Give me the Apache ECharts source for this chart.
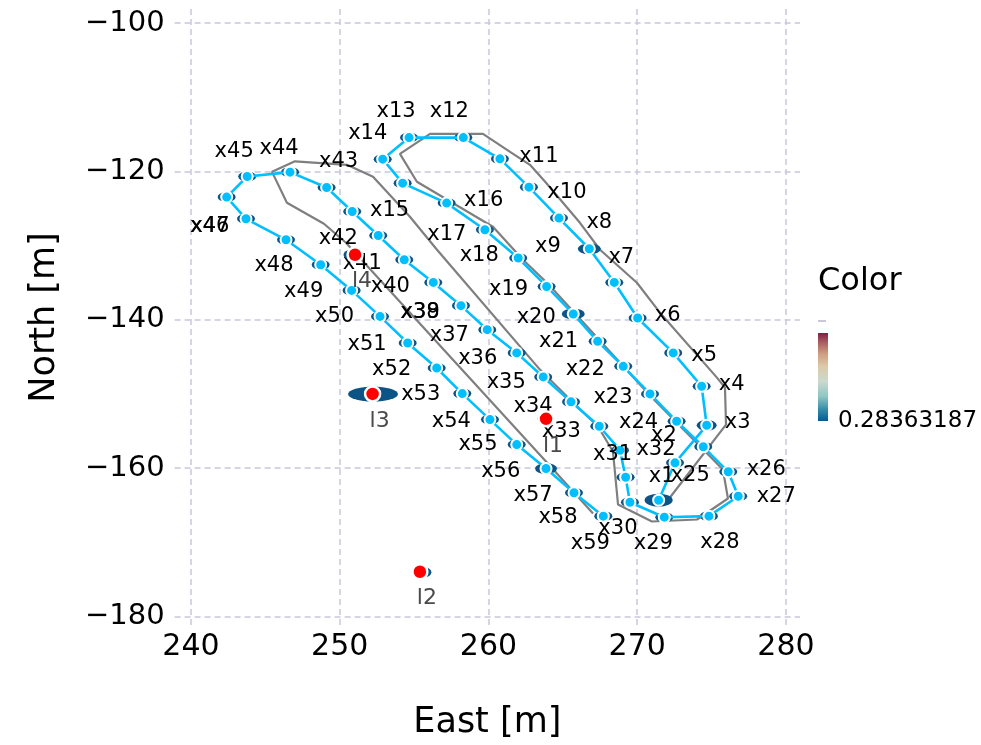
<!DOCTYPE html>
<html>
<head>
<meta charset="utf-8">
<script src="https://cdn.jsdelivr.net/npm/echarts@6/dist/echarts.min.js"></script>
<style>
  html, body { margin: 0; padding: 0; background: #ffffff; }
  #chart { width: 981px; height: 745px; }
</style>
</head>
<body>
<div id="chart"></div>
<script>
// ---- Pose estimates (East / North, metres) ----
const poseEast = [
  271.44, 272.54, 274.67, 274.33, 272.42, 270.03, 268.46, 266.78, 264.74, 262.72,
  260.77, 258.31, 254.66, 252.89, 254.23, 257.19, 259.76, 262.00, 263.91, 265.70,
  267.34, 269.06, 270.86, 272.65, 274.44, 276.12, 276.79, 274.82, 271.82, 269.51,
  269.22, 268.84, 267.45, 265.55, 263.68, 261.90, 259.92, 258.15, 256.29, 254.34,
  252.59, 250.84, 249.12, 246.66, 243.78, 242.40, 243.70, 246.39, 248.72, 250.80,
  252.71, 254.57, 256.52, 258.24, 260.10, 261.90, 263.87, 265.75, 267.72
];
const poseNorth = [
  -164.34, -159.30, -154.24, -148.98, -144.48, -139.77, -134.98, -130.44, -126.30, -122.13,
  -118.32, -115.45, -115.45, -118.36, -121.59, -124.28, -127.88, -131.69, -135.52, -139.23,
  -142.92, -146.29, -150.01, -153.70, -157.14, -160.51, -163.80, -166.49, -166.63, -164.61,
  -161.24, -157.60, -154.37, -151.08, -147.72, -144.48, -141.35, -138.11, -134.98, -131.92,
  -128.65, -125.41, -122.18, -120.11, -120.70, -123.47, -126.40, -129.23, -132.59, -136.05,
  -139.56, -143.14, -146.51, -149.97, -153.47, -156.84, -160.07, -163.34, -166.49
];
const poseNames = poseEast.map((_, i) => 'x' + (i + 1));

// ---- Planned route ----
const plannedEast = [
  272.20, 275.97, 275.90, 275.36, 271.53, 269.98, 267.50, 266.15, 263.87, 262.79,
  261.45, 259.63, 256.07, 254.05, 255.19, 260.30, 262.32, 264.00, 270.92, 275.76,
  276.10, 274.02, 270.99, 268.71, 268.37, 267.36, 265.28, 263.46, 256.54, 254.72,
  252.24, 250.49, 246.99, 245.45, 246.45, 248.94, 250.42, 263.93, 267.03
];
const plannedNorth = [
  -163.97, -154.14, -149.16, -147.81, -139.06, -135.02, -130.57, -126.94, -121.55, -119.12,
  -117.37, -114.95, -114.95, -117.64, -121.41, -127.47, -131.92, -135.15, -150.37, -160.20,
  -164.11, -166.94, -167.21, -164.92, -157.78, -154.41, -150.37, -146.73, -130.57, -126.13,
  -120.74, -119.12, -118.65, -120.07, -124.24, -127.07, -129.63, -159.26, -166.13
];

// ---- Landmarks: true positions and estimates ----
const landmarkNames = ['l1', 'l2', 'l3', 'l4'];
const landmarkEast = [263.87, 255.39, 252.21, 251.03];
const landmarkNorth = [-153.37, -173.98, -150.01, -131.25];
const landmarkEstEast = [263.80, 255.66, 252.24, 250.76];
const landmarkEstNorth = [-153.33, -174.07, -150.03, -131.25];

// ---- Axis ticks and colour scale ----
const xTicks = [240, 250, 260, 270, 280];
const yTicks = [-100, -120, -140, -160, -180];
const colorMin = 0.28363187;

// ---- Layout / style helpers ----
const FONT = 'DejaVu Sans';
const xRange = [238.9, 280.95];
const yRange = [-181.3, -98.1];

// label offsets [dx, dy] in px for x1..x59
const poseLabelOffsets = [
  [3,-24],[-11,-27],[31,-3],[30,-2],[31,3],[30,-2],[7,-25],[10,-26],[-11,28],[38,5],
  [39,-2],[-14,-26],[-13,-26],[-15,-26],[-13,27],[37,-3],[-38,5],[-39,-2],[-38,3],[-37,4],
  [-39,0],[-38,3],[-37,4],[-38,1],[-13,29],[38,-2],[38,0],[11,26],[-11,26],[-12,26],
  [-13,-23],[36,-1],[-38,5],[-38,5],[-37,6],[-39,6],[-38,6],[-41,7],[-13,30],[-14,27],
  [-16,28],[-14,27],[12,-26],[-11,-24],[-13,-25],[-17,29],[-36,8],[-12,26],[-17,27],[-17,26],
  [-13,28],[-16,27],[-16,27],[-11,28],[-12,25],[-16,27],[-13,27],[-16,25],[-13,27]
];
const ellipseDefault = [18, 10];
const ellipseLarge = { x1: [28, 13], x8: [23, 11], x20: [23, 11], x57: [22, 11], x3: [20, 11] };
const landmarkEllipse = { l1: [15, 10], l2: [15, 10], l3: [50, 15], l4: [15, 10] };

const ELLIPSE = 'path://M0,-1A1,1 0 1,1 0,1A1,1 0 1,1 0,-1Z';
const DARK = '#0b5485';
const CYAN = '#00bfff';

const posePairs = poseEast.map((e, i) => [e, poseNorth[i]]);

const chart = echarts.init(document.getElementById('chart'), null, { renderer: 'canvas' });

const toMinus = (v) => String(v).replace('-', '\u2212');

chart.setOption({
  animation: false,
  backgroundColor: '#ffffff',
  grid: {
    left: 174.6, right: 180.9, top: 8.9, bottom: 118.3,
    containLabel: false
  },
  xAxis: {
    type: 'value', min: xRange[0], max: xRange[1], splitNumber: 4,
    name: 'East [m]', nameLocation: 'middle', nameGap: 79,
    nameTextStyle: { fontSize: 35, color: '#000', fontFamily: FONT },
    axisLine: { show: false }, axisTick: { show: false },
    axisLabel: {
      fontSize: 30, color: '#000', fontFamily: FONT, margin: 6,
      showMinLabel: false, showMaxLabel: false,
      formatter: (v) => xTicks.includes(v) ? toMinus(v) : ''
    },
    splitLine: {
      show: true, showMinLine: false, showMaxLine: false,
      lineStyle: { color: '#c8c8dc', type: [6, 4], width: 1.5 }
    }
  },
  yAxis: {
    type: 'value', min: yRange[0], max: yRange[1], splitNumber: 4,
    name: 'North [m]', nameLocation: 'middle', nameGap: 112, nameRotate: 90,
    nameTextStyle: { fontSize: 35, color: '#000', fontFamily: FONT },
    axisLine: { show: false }, axisTick: { show: false },
    axisLabel: {
      fontSize: 29, color: '#000', fontFamily: FONT, margin: 10,
      showMinLabel: false, showMaxLabel: false,
      formatter: (v) => yTicks.includes(v) ? toMinus(v) : ''
    },
    splitLine: {
      show: true, showMinLine: false, showMaxLine: false,
      lineStyle: { color: '#c8c8dc', type: [6, 4], width: 1.5 }
    }
  },
  series: [
    {
      name: 'planned', type: 'line', z: 1,
      data: plannedEast.map((e, i) => [e, plannedNorth[i]]),
      showSymbol: false, symbol: 'none',
      lineStyle: { color: '#7f7f7f', width: 2.2 },
      silent: true
    },
    {
      name: 'pose covariance', type: 'scatter', z: 2,
      symbol: ELLIPSE,
      data: posePairs.map((p, i) => ({
        value: p,
        symbolSize: ellipseLarge[poseNames[i]] || ellipseDefault
      })),
      itemStyle: { color: DARK, opacity: 1 }
    },
    {
      name: 'trajectory', type: 'line', z: 3,
      data: posePairs,
      showSymbol: false, symbol: 'none',
      lineStyle: { color: CYAN, width: 2.6 }
    },
    {
      name: 'poses', type: 'scatter', z: 4,
      data: posePairs.map((p, i) => ({
        value: p,
        name: poseNames[i],
        label: { offset: poseLabelOffsets[i] }
      })),
      symbol: 'circle', symbolSize: 11,
      itemStyle: { color: CYAN, borderColor: '#ffffff', borderWidth: 2, opacity: 1 },
      label: {
        show: true, position: 'inside',
        formatter: (p) => p.name,
        fontSize: 21, color: '#000', fontFamily: FONT
      }
    },
    {
      name: 'landmark covariance', type: 'scatter', z: 5,
      symbol: ELLIPSE,
      data: landmarkEstEast.map((e, i) => ({
        value: [e, landmarkEstNorth[i]],
        symbolSize: landmarkEllipse[landmarkNames[i]]
      })),
      itemStyle: { color: DARK, opacity: 1 }
    },
    {
      name: 'landmarks', type: 'scatter', z: 6,
      symbol: 'circle', symbolSize: 15,
      data: landmarkEast.map((e, i) => ({
        value: [e, landmarkNorth[i]],
        name: landmarkNames[i]
      })),
      itemStyle: { color: '#ff0000', borderColor: '#ffffff', borderWidth: 2.5, opacity: 1 },
      label: {
        show: true, position: 'inside', offset: [7, 27],
        formatter: (p) => p.name,
        fontSize: 22, color: '#4a4a4a', fontFamily: FONT
      }
    }
  ],
  graphic: [
    {
      type: 'text', left: 818, top: 266,
      style: { text: 'Color', fontSize: 32, fill: '#000', fontFamily: FONT }
    },
    {
      type: 'line', shape: { x1: 818, y1: 321, x2: 826, y2: 321 },
      style: { stroke: '#c8c8dc', lineWidth: 2 }
    },
    {
      type: 'rect', shape: { x: 818, y: 333, width: 10, height: 88 },
      style: {
        fill: {
          type: 'linear', x: 0, y: 1, x2: 0, y2: 0,
          colorStops: [
            { offset: 0, color: '#0a5a8c' },
            { offset: 0.12, color: '#2f88a8' },
            { offset: 0.28, color: '#8fc6c3' },
            { offset: 0.45, color: '#cbd9ce' },
            { offset: 0.62, color: '#dccaa8' },
            { offset: 0.76, color: '#cf9f83' },
            { offset: 0.9, color: '#a65a5e' },
            { offset: 1, color: '#7e1f45' }
          ]
        }
      }
    },
    {
      type: 'text', left: 838, top: 410,
      style: { text: String(colorMin), fontSize: 23, fill: '#000', fontFamily: FONT }
    }
  ]
});
</script>
</body>
</html>
